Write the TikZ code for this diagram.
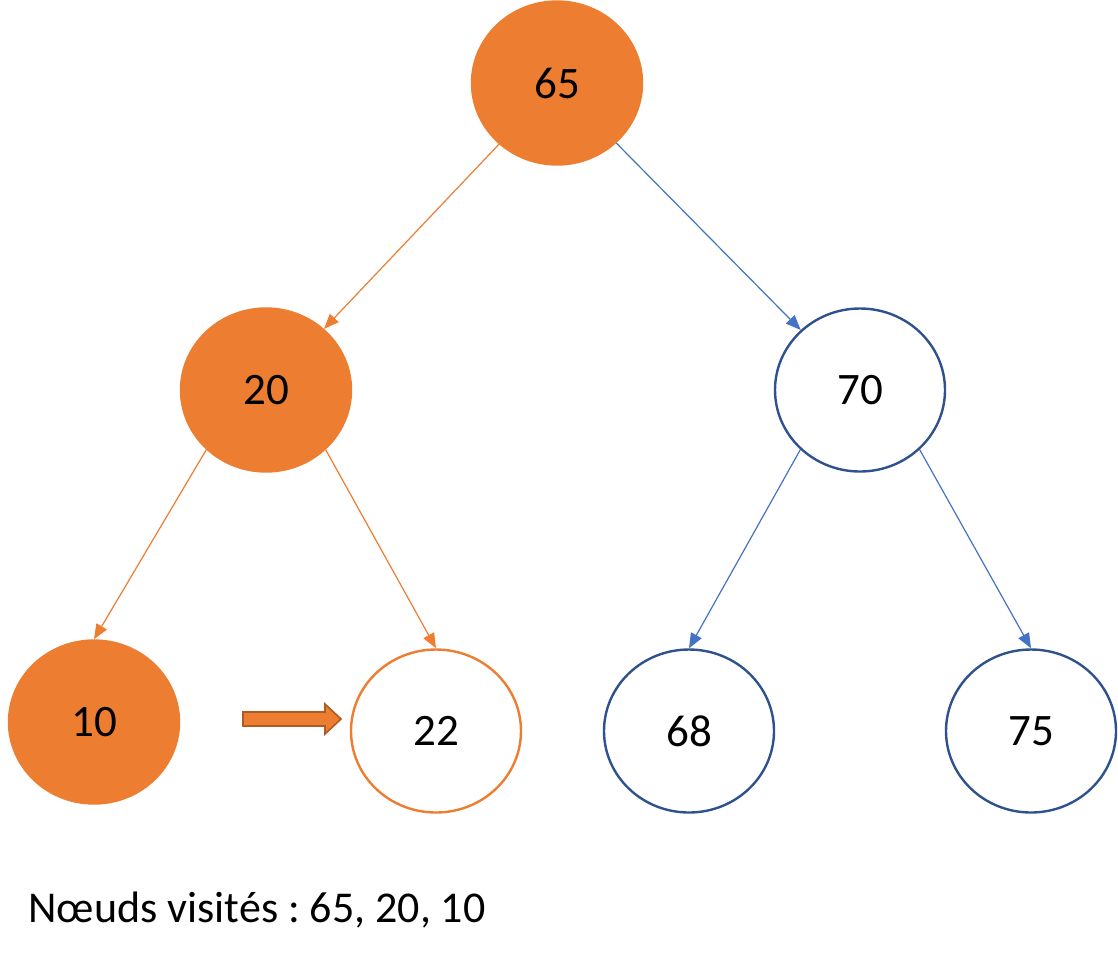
\documentclass[tikz,border=0pt]{standalone}
\usepackage{fontspec}
\setmainfont{Carlito}
\usepackage{tikz}
\usetikzlibrary{shapes.geometric}
\usetikzlibrary{arrows.meta}

\begin{document}
\frenchspacing
\begin{tikzpicture}[x=0.5pt, y=-0.5pt]
                \definecolor{visitorange}{RGB}{237,125,49}
                \definecolor{darkorange}{RGB}{174,90,33}
                \definecolor{treeblue}{RGB}{47,82,143}
                \definecolor{linkblue}{RGB}{68,114,196}
                \tikzset{
                    keynode/.style={ellipse, draw, line width=1.2pt, inner sep=0pt,
                        minimum width=85pt, minimum height=81.5pt,
                        font=\fontsize{22.5}{27}\selectfont},
                    visited/.style={keynode, draw=visitorange, fill=visitorange},
                    pending/.style={keynode, draw=visitorange, fill=white},
                    unseen/.style={keynode, draw=treeblue, fill=white},
                    link/.style={line width=0.6pt, -{Triangle[length=7.5pt, width=6pt]}},
                }
                \useasboundingbox (0,0) rectangle (1118,960);
                
                \node[visited] (n65) at (557, 83) {65};
                \node[visited] (n20) at (266, 390) {20};
                \node[unseen]  (n70) at (860, 390) {70};
                \node[visited] (n10) at (94, 722) {10};
                \node[pending] (n22) at (436, 731) {22};
                \node[unseen]  (n68) at (689, 731) {68};
                \node[unseen]  (n75) at (1031, 731) {75};
                
                \draw[link, visitorange] (n65) -- (n20);
                \draw[link, linkblue] (n65) -- (n70);
                \draw[link, visitorange] (n20.-135) -- (n10.north);
                \draw[link, visitorange] (n20.-45) -- (n22.north);
                \draw[link, linkblue] (n70.-135) -- (n68.north);
                \draw[link, linkblue] (n70.-45) -- (n75.north);
                
                % current step
                \draw[fill=visitorange, draw=darkorange, line width=0.8pt]
                    (243, 712) -- (325, 712) -- (325, 704) -- (341, 719)
                    -- (325, 734) -- (325, 726) -- (243, 726) -- cycle;
                
                \node[anchor=base west, font=\fontsize{22}{26}\selectfont, inner sep=0pt]
                    (trail) at (28, 922) {Nœuds visités : 65, 20, 10};
            \end{tikzpicture}
\end{document}
